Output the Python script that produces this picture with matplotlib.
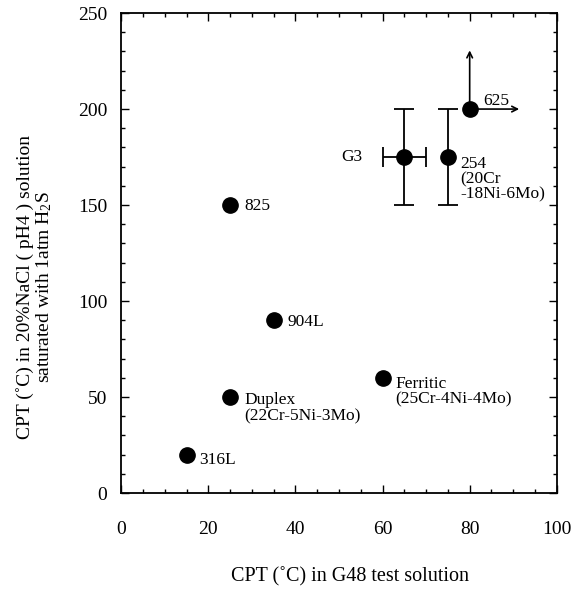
"""CPT in sour NaCl solution vs CPT in G48 solution"""
import matplotlib
matplotlib.use('Agg')
import matplotlib.pyplot as plt
from matplotlib.ticker import MultipleLocator

plt.rcParams['font.family'] = ['Liberation Serif', 'DejaVu Serif']
plt.rcParams['mathtext.fontset'] = 'custom'
plt.rcParams['mathtext.rm'] = 'Liberation Serif'
plt.rcParams['mathtext.it'] = 'Liberation Serif:italic'

# plain points
names = ['316L', 'Duplex', '825', '904L', 'Ferritic']
cpt_g48 = [15, 25, 25, 35, 60]
cpt_h2s = [20, 50, 150, 90, 60]

# points with error bars
g3_x, g3_y, g3_xerr, g3_yerr = 65, 175, 5, 25
a254_x, a254_y, a254_yerr = 75, 175, 25

# 625: lower bound in both directions
a625_x, a625_y = 80, 200
a625_up, a625_right = 232, 92

fig = plt.figure(figsize=(5.77, 5.94), dpi=100)
ax = fig.add_axes([0.21, 0.17, 0.755, 0.808])

ax.plot(cpt_g48, cpt_h2s, 'o', color='black', markersize=11, zorder=3)

ax.errorbar(g3_x, g3_y, xerr=g3_xerr, yerr=g3_yerr, fmt='o', color='black',
            markersize=11, capsize=7, elinewidth=1.3, capthick=1.3, zorder=3)
ax.errorbar(a254_x, a254_y, yerr=a254_yerr, fmt='o', color='black',
            markersize=11, capsize=7, elinewidth=1.3, capthick=1.3, zorder=3)
ax.plot(a625_x, a625_y, 'o', color='black', markersize=11, zorder=3)
ax.annotate('', xy=(a625_x, a625_up), xytext=(a625_x, a625_y),
            arrowprops=dict(arrowstyle='->', color='black', lw=1.2))
ax.annotate('', xy=(a625_right, a625_y), xytext=(a625_x, a625_y),
            arrowprops=dict(arrowstyle='->', color='black', lw=1.2))

# labels
fs = 12.5
ax.annotate('316L', (15, 20), xytext=(9, -4), textcoords='offset points',
            fontsize=fs, va='center')
ax.annotate('Duplex\n(22Cr-5Ni-3Mo)', (25, 50), xytext=(10, -8),
            textcoords='offset points', fontsize=fs, va='center', linespacing=1.0)
ax.annotate('825', (25, 150), xytext=(10, -1), textcoords='offset points',
            fontsize=fs, va='center')
ax.annotate('904L', (35, 90), xytext=(10, -1), textcoords='offset points',
            fontsize=fs, va='center')
ax.annotate('Ferritic\n(25Cr-4Ni-4Mo)', (60, 60), xytext=(9, -10),
            textcoords='offset points', fontsize=fs, va='center', linespacing=1.0)
ax.annotate('G3', (65, 175), xytext=(-30, 0), textcoords='offset points',
            fontsize=fs, va='center', ha='right')
ax.annotate('254\n(20Cr\n-18Ni-6Mo)', (75, 175), xytext=(9, -16),
            textcoords='offset points', fontsize=fs, va='center', linespacing=0.95)
ax.annotate('625', (80, 200), xytext=(10, 6), textcoords='offset points',
            fontsize=fs, va='center')

ax.set_xlim(0, 100)
ax.set_ylim(0, 250)
ax.xaxis.set_major_locator(MultipleLocator(20))
ax.xaxis.set_minor_locator(MultipleLocator(5))
ax.yaxis.set_major_locator(MultipleLocator(50))
ax.yaxis.set_minor_locator(MultipleLocator(10))
ax.tick_params(which='both', direction='in', top=True, right=True,
               labelsize=14, width=1.0)
ax.tick_params(which='major', length=6)
ax.tick_params(which='minor', length=3)
ax.tick_params(axis='x', pad=20)
ax.tick_params(axis='y', pad=10)
for s in ax.spines.values():
    s.set_linewidth(1.3)

ax.set_xlabel('CPT (˚C) in G48 test solution', fontsize=14.5)
ax.xaxis.set_label_coords(0.525, -0.155)
ax.set_ylabel('CPT (˚C) in 20%NaCl ( pH4 ) solution\nsaturated with 1atm H$_2$S',
              fontsize=14, linespacing=1.0)
ax.yaxis.set_label_coords(-0.155, 0.43)

plt.savefig('out.png', dpi=100)
